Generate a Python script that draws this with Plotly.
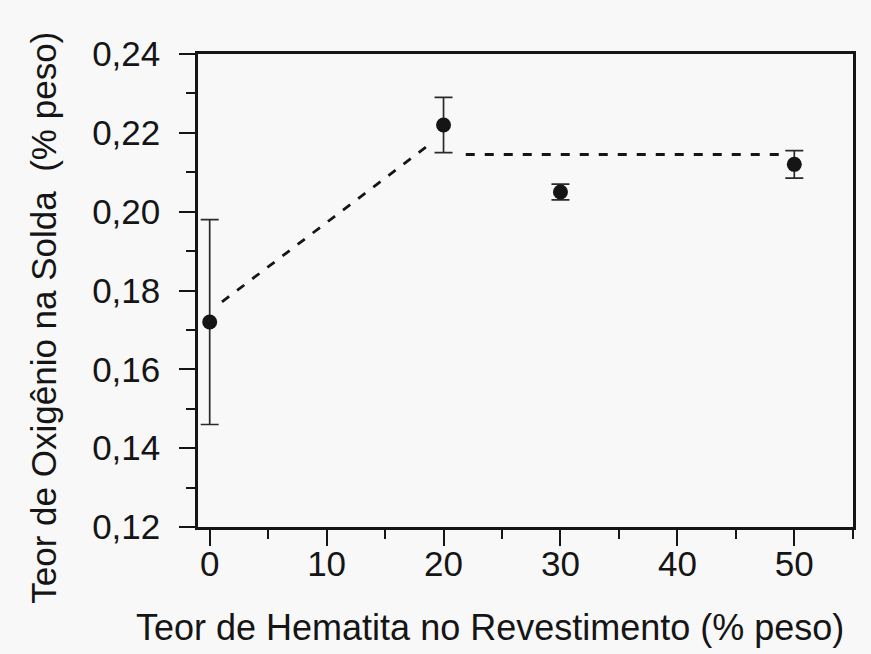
import plotly.graph_objects as go

# Measured oxygen content in the weld metal vs. hematite content in the coating
hematita = [0, 20, 30, 50]
oxigenio = [0.172, 0.222, 0.205, 0.212]
erro = [0.026, 0.007, 0.002, 0.0035]

# Dashed trend lines
trend1_x = [1.05, 18.5]
trend1_y = [0.1771, 0.2164]
trend2_x = [21.9, 49.4]
trend2_y = [0.2145, 0.2145]

x_ticks = [0, 10, 20, 30, 40, 50]
y_ticks = [0.12, 0.14, 0.16, 0.18, 0.20, 0.22, 0.24]

FONT = "Liberation Sans"
INK = "#151515"
BG = "#f8f8f8"

fig = go.Figure()

for tx, ty in [(trend1_x, trend1_y), (trend2_x, trend2_y)]:
    fig.add_trace(go.Scatter(
        x=tx, y=ty, mode="lines",
        line=dict(color=INK, width=2.8, dash="9px,10px"),
        hoverinfo="skip", showlegend=False,
    ))

fig.add_trace(go.Scatter(
    x=hematita, y=oxigenio, mode="markers",
    marker=dict(color=INK, size=15, symbol="circle"),
    error_y=dict(type="data", array=erro, visible=True,
                 color="#2a2a2a", thickness=1.7, width=9),
    showlegend=False,
))

axis_common = dict(
    showline=True, linecolor=INK, linewidth=2.5, mirror=True,
    ticks="outside", ticklen=16, tickwidth=2.2, tickcolor=INK,
    showgrid=False, zeroline=False,
    tickfont=dict(family=FONT, size=35, color=INK),
)

fig.update_xaxes(
    range=[-1.0, 55.02], tickvals=x_ticks,
    minor=dict(ticks="outside", ticklen=9, tickwidth=2.2, tickcolor=INK, dtick=10, tick0=5),
    ticklabelstandoff=-12,
    **axis_common,
)
fig.update_yaxes(
    range=[0.12, 0.24], tickvals=y_ticks, tickformat=".2f",
    minor=dict(ticks="outside", ticklen=9, tickwidth=2.2, tickcolor=INK, dtick=0.02, tick0=0.13),
    ticklabelstandoff=12,
    **axis_common,
)

fig.add_annotation(
    text="Teor de Hematita no Revestimento (% peso)",
    xref="paper", yref="paper", x=0.4465, y=-0.2135,
    xanchor="center", yanchor="middle", showarrow=False,
    font=dict(family=FONT, size=36, color=INK),
)
fig.add_annotation(
    text="Teor de Oxigênio na Solda\u00a0 (% peso)",
    xref="paper", yref="paper", x=-0.2355, y=0.4419,
    xanchor="center", yanchor="middle", textangle=-90, showarrow=False,
    font=dict(family=FONT, size=35, color=INK),
)

fig.update_layout(
    width=871, height=654,
    margin=dict(l=198, r=18, t=54, b=127),
    paper_bgcolor=BG, plot_bgcolor=BG,
    separators=",.",
)

fig.write_html("out.html")
